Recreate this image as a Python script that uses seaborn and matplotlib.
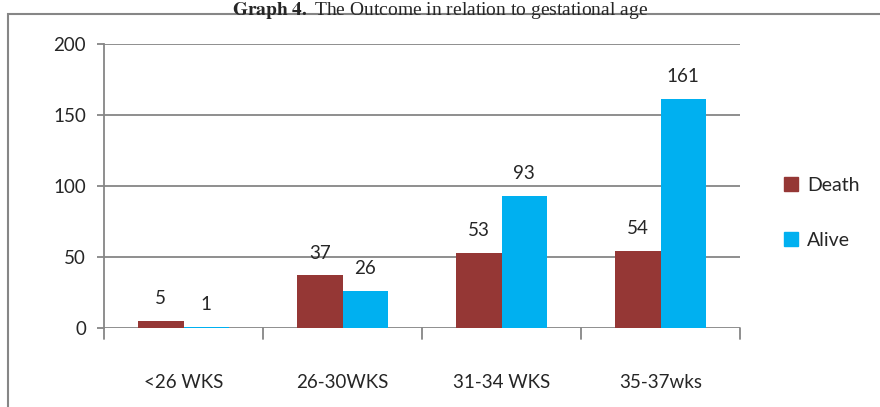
import matplotlib
matplotlib.use("Agg")
import matplotlib.pyplot as plt
from matplotlib.patches import Rectangle
import seaborn as sns
import pandas as pd

categories = ["<26 WKS", "26-30WKS", "31-34 WKS", "35-37wks"]
death = [5, 37, 53, 54]
alive = [1, 26, 93, 161]
series_names = ["Death", "Alive"]
colors = ["#953735", "#00B0F0"]
y_ticks = [0, 50, 100, 150, 200]

df = pd.DataFrame({
    "Gestational age": categories * 2,
    "Outcome": [series_names[0]] * len(categories) + [series_names[1]] * len(categories),
    "Count": death + alive,
})

sns.set_theme(style="white")
plt.rcParams["font.family"] = ["Lato", "DejaVu Sans"]

fig = plt.figure(figsize=(8.8, 4.07), dpi=100)
ax = fig.add_axes([104 / 880, 1 - 328 / 407, (740 - 104) / 880, (328 - 44) / 407])

sns.barplot(data=df, x="Gestational age", y="Count", hue="Outcome",
            palette=colors, width=0.57, saturation=1, linewidth=0,
            ax=ax, legend=False)

grid_col = "#868686"
ax.set_ylim(0, 200)
ax.set_xlim(-0.5, len(categories) - 0.5)
ax.set_yticks(y_ticks)
ax.set_yticklabels([str(t) for t in y_ticks], fontsize=13.5)
for t in y_ticks:
    ax.axhline(t, color=grid_col, lw=1.3, zorder=0)
ax.set_xticks(range(len(categories)))
ax.set_xticklabels(categories, fontsize=13.5)
ax.tick_params(axis="x", length=0, pad=33)
ax.tick_params(axis="y", length=5, color=grid_col, width=1.3, pad=8, direction="out", left=True)
for b in [i - 0.5 for i in range(len(categories) + 1)]:
    ax.plot([b, b], [0, -0.04], transform=ax.get_xaxis_transform(),
            color=grid_col, lw=1.3, clip_on=False)
ax.set_xlabel("")
ax.set_ylabel("")
for s in ["top", "right", "bottom"]:
    ax.spines[s].set_visible(False)
ax.spines["left"].set_color(grid_col)
ax.spines["left"].set_linewidth(1.3)

for cont in ax.containers:
    ax.bar_label(cont, padding=10, fontsize=13.5)

handles = [Rectangle((0, 0), 1, 1, color=c) for c in colors]
fig.legend(handles, series_names, loc="center left", bbox_to_anchor=(766 / 880, 1 - 213 / 407),
           frameon=False, fontsize=14, handlelength=0.75, handleheight=0.75,
           labelspacing=1.95, handletextpad=0.45)

# outer chart frame
fig.patches.append(Rectangle((8 / 880, -0.1), 1.1, 1 - 14 / 407 + 0.1, transform=fig.transFigure,
                             fill=False, edgecolor="#868686", lw=1.5))

fig.text(0.5, 1.0, r"$\bf{Graph\ 4.}$ The Outcome in relation to gestational age",
         ha="center", va="top", fontsize=14, family="Liberation Serif",
         math_fontfamily="stix")

fig.savefig("out.png", dpi=100)
